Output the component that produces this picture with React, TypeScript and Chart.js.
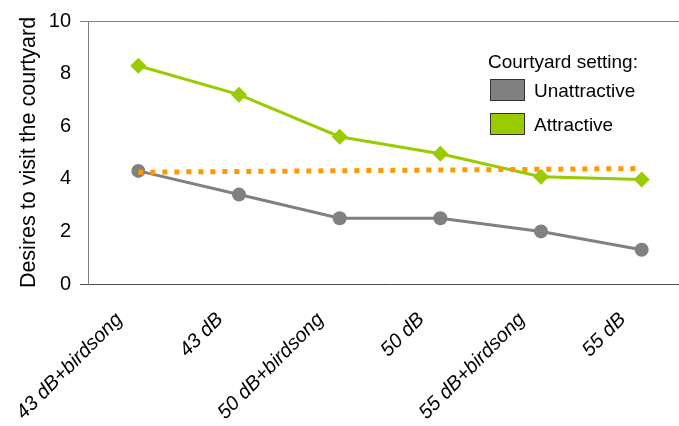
import { useEffect, useRef } from "react";
import { Chart, registerables } from "chart.js";

Chart.register(...registerables);

// Noise conditions shown along the x axis
const categories = [
  "43 dB+birdsong",
  "43 dB",
  "50 dB+birdsong",
  "50 dB",
  "55 dB+birdsong",
  "55 dB",
];

// Mean desire to visit the courtyard, per courtyard setting
const unattractive = [4.3, 3.4, 2.5, 2.5, 2.0, 1.3];
const attractive = [8.3, 7.2, 5.6, 4.95, 4.08, 3.97];

// Straight reference line (two end values, joined across the gaps)
const referenceLine = [4.25, null, null, null, null, 4.39];

const yTicks = [0, 2, 4, 6, 8, 10];

const legendTitle = "Courtyard setting:";
const yTitle = "Desires to visit the courtyard";

const GRAY = "#808080";
const AXIS_DARK = "#4d4d4d";
const GREEN = "#99CC00";
const ORANGE = "#FF9900";
const FONT = "'Liberation Sans', Arial, Helvetica, sans-serif";

// Legend box drawn inside the plot, listing the two courtyard settings
const courtyardLegend = {
  id: "courtyardLegend",
  afterDraw(chart: any) {
    const { ctx, chartArea } = chart;
    const x0 = chartArea.left + 400;
    const y0 = chartArea.top + 42;
    ctx.save();
    ctx.fillStyle = "#000";
    ctx.textAlign = "left";
    ctx.textBaseline = "middle";
    ctx.font = `19px ${FONT}`;
    ctx.fillText(legendTitle, x0, y0);
    const items = chart.data.datasets.filter((d: any) => d.inLegend);
    items.forEach((d: any, i: number) => {
      const top = y0 + 16 + i * 34;
      ctx.fillStyle = d.backgroundColor;
      ctx.fillRect(x0 + 2, top, 35, 22);
      ctx.strokeStyle = "#333333";
      ctx.lineWidth = 1;
      ctx.strokeRect(x0 + 2.5, top + 0.5, 34, 21);
      ctx.fillStyle = "#000";
      ctx.font = `19px ${FONT}`;
      ctx.fillText(d.label, x0 + 46, top + 12.5);
    });
    ctx.restore();
  },
};

export default function App() {
  const canvasRef = useRef<HTMLCanvasElement>(null);

  useEffect(() => {
    const canvas = canvasRef.current;
    if (!canvas) return;

    const chart = new Chart(canvas, {
      type: "line",
      data: {
        labels: categories,
        datasets: [
          {
            label: "Reference",
            data: referenceLine,
            borderColor: ORANGE,
            backgroundColor: ORANGE,
            borderWidth: 5,
            borderDash: [5, 7],
            borderCapStyle: "butt",
            pointRadius: 0,
            spanGaps: true,
            fill: false,
            order: 0,
          },
          {
            label: "Unattractive",
            inLegend: true,
            data: unattractive,
            borderColor: GRAY,
            backgroundColor: GRAY,
            borderWidth: 3,
            pointStyle: "circle",
            pointRadius: 7,
            pointBorderWidth: 0,
            fill: false,
            order: 1,
          },
          {
            label: "Attractive",
            inLegend: true,
            data: attractive,
            borderColor: GREEN,
            backgroundColor: GREEN,
            borderWidth: 3,
            pointStyle: "rectRot",
            pointRadius: 8,
            pointBorderWidth: 0,
            fill: false,
            order: 2,
          },
        ] as any,
      },
      options: {
        responsive: false,
        animation: false,
        devicePixelRatio: 1,
        layout: { padding: { left: 0, top: 20, right: 28, bottom: 0 } },
        plugins: {
          legend: { display: false },
          tooltip: { enabled: false },
        },
        scales: {
          x: {
            type: "category",
            offset: true,
            grid: { display: false, drawTicks: false },
            border: { display: false },
            ticks: {
              autoSkip: false,
              minRotation: 45,
              maxRotation: 45,
              padding: 24,
              labelOffset: -19,
              color: "#000",
              font: { family: FONT, size: 20, style: "italic" },
            },
            afterFit: (scale: any) => {
              scale.height = 142;
            },
          },
          y: {
            min: yTicks[0],
            max: yTicks[yTicks.length - 1],
            afterFit: (scale: any) => {
              scale.width = 88;
            },
            ticks: {
              stepSize: yTicks[1] - yTicks[0],
              padding: 9,
              color: "#000",
              font: { family: FONT, size: 20 },
            },
            grid: {
              tickLength: 8,
              color: (c: any) => {
                if (!c.tick) return "rgba(0,0,0,0)";
                if (c.tick.value === yTicks[0]) return AXIS_DARK;
                if (c.tick.value === yTicks[yTicks.length - 1]) return GRAY;
                return "rgba(0,0,0,0)";
              },
            },
            border: { display: true, color: GRAY, width: 1 },
            title: {
              display: true,
              text: yTitle,
              color: "#000",
              font: { family: FONT, size: 21.5 },
              padding: { top: 16, bottom: 0 },
            },
          },
        },
      } as any,
      plugins: [courtyardLegend],
    });

    return () => chart.destroy();
  }, []);

  return (
    <div
      style={{
        position: "absolute",
        left: 0,
        top: 0,
        width: 679,
        height: 426,
        overflow: "hidden",
        background: "#fff",
      }}
    >
      <canvas
        ref={canvasRef}
        width={720}
        height={426}
        style={{ display: "block", width: 720, height: 426 }}
      />
    </div>
  );
}
